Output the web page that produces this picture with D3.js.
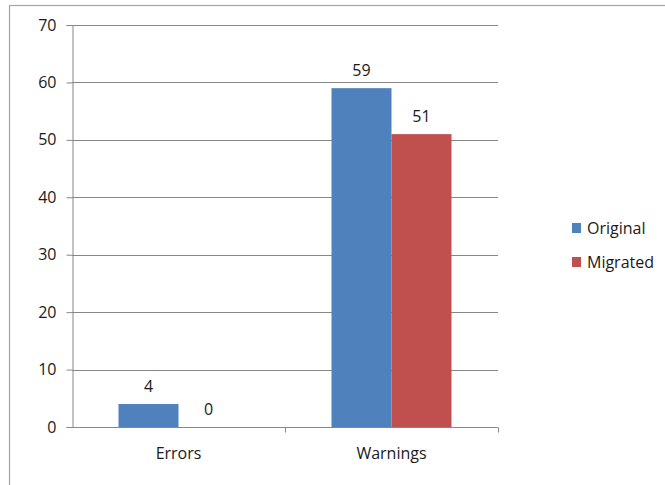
<!DOCTYPE html>
<html>
<head>
<meta charset="utf-8">
<script src="https://cdn.jsdelivr.net/npm/d3@7"></script>
<style>
  html, body { margin: 0; padding: 0; background: #fff; }
  svg { display: block; }
  text { font-family: "Open Sans", "DejaVu Sans", sans-serif; fill: #1a1a1a; }
</style>
</head>
<body>
<svg id="chart" width="665" height="485"></svg>
<script>
// Chart data
const categories = ["Errors", "Warnings"];
const seriesNames = ["Original", "Migrated"];
const original = [4, 59];
const migrated = [0, 51];
const yTicks = [0, 10, 20, 30, 40, 50, 60, 70];
const colors = ["#4f81bd", "#c0504d"];

const svg = d3.select("#chart");
const W = 665, H = 485;
const fontSize = "16px";

// Outer chart frame (runs past the right and bottom edges)
svg.append("rect")
  .attr("x", 9.5).attr("y", 5.5)
  .attr("width", W + 20).attr("height", H - 2)
  .attr("fill", "#fff").attr("stroke", "#a6a6a6").attr("stroke-width", 1.2);

const plot = { left: 72, right: 498, top: 25, bottom: 427 };

const y = d3.scaleLinear().domain([0, 70]).range([plot.bottom, plot.top]);
const x = d3.scaleBand().domain(categories).range([plot.left, plot.right]);
const inner = d3.scaleBand().domain(seriesNames)
  .range([0, x.bandwidth()]).paddingInner(0).paddingOuter(0.775);

const gridColor = "#878787";

// Horizontal gridlines
svg.append("g").selectAll("line")
  .data(yTicks.filter(t => t > 0))
  .join("line")
  .attr("x1", plot.left).attr("x2", plot.right)
  .attr("y1", d => Math.round(y(d)) + 0.5).attr("y2", d => Math.round(y(d)) + 0.5)
  .attr("stroke", gridColor).attr("stroke-width", 1);

// Bars
const rows = categories.map((c, i) => ({ cat: c, values: [original[i], migrated[i]] }));
const groups = svg.append("g").selectAll("g")
  .data(rows).join("g")
  .attr("transform", d => `translate(${x(d.cat)},0)`);

groups.selectAll("rect")
  .data(d => d.values.map((v, j) => ({ name: seriesNames[j], v, j })))
  .join("rect")
  .attr("x", d => inner(d.name))
  .attr("width", inner.bandwidth())
  .attr("y", d => y(d.v))
  .attr("height", d => plot.bottom - y(d.v))
  .attr("fill", d => colors[d.j]);

// Value labels
groups.selectAll("text")
  .data(d => d.values.map((v, j) => ({ name: seriesNames[j], v, j })))
  .join("text")
  .attr("x", d => inner(d.name) + inner.bandwidth() / 2)
  .attr("y", d => y(d.v) - 12)
  .attr("text-anchor", "middle")
  .style("font-size", fontSize)
  .text(d => d.v);

// Y axis
const yAxis = d3.axisLeft(y).tickValues(yTicks).tickSize(6).tickPadding(10);
const gy = svg.append("g")
  .attr("transform", `translate(${plot.left + 0.5},0)`)
  .call(yAxis);
gy.select(".domain").attr("stroke", gridColor);
gy.selectAll(".tick line").attr("stroke", gridColor);
gy.selectAll(".tick text").style("font-size", fontSize).attr("fill", "#1a1a1a");

// X axis
const xAxis = d3.axisBottom(x).tickSize(0).tickPadding(20);
const gx = svg.append("g")
  .attr("transform", `translate(0,${plot.bottom + 0.5})`)
  .call(xAxis);
gx.select(".domain").attr("stroke", gridColor).attr("d", `M${plot.left},0H${plot.right}`);
gx.selectAll(".tick text").style("font-size", fontSize).attr("fill", "#1a1a1a");
// Category separators
gx.append("g").selectAll("line")
  .data([x.range()[0] + x.bandwidth(), plot.right])
  .join("line")
  .attr("x1", d => d + 0.5).attr("x2", d => d + 0.5)
  .attr("y1", 0).attr("y2", 5)
  .attr("stroke", gridColor);

// Legend
const legend = svg.append("g").attr("transform", "translate(572,223)");
const li = legend.selectAll("g").data(seriesNames).join("g")
  .attr("transform", (d, i) => `translate(0,${i * 34})`);
li.append("rect").attr("width", 9).attr("height", 10)
  .attr("fill", (d, i) => colors[i]);
li.append("text").attr("x", 15).attr("y", 11)
  .style("font-size", fontSize).text(d => d);
</script>
</body>
</html>
